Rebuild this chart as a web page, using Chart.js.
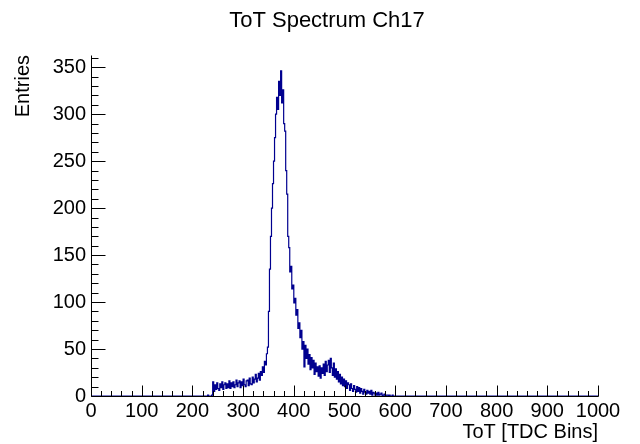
<!DOCTYPE html>
<html>
<head>
<meta charset="utf-8">
<script src="https://cdn.jsdelivr.net/npm/chart.js@4.4.1/dist/chart.umd.min.js"></script>
<style>
    html, body { margin: 0; padding: 0; background: #fff; }
</style>
</head>
<body>
<canvas id="totChart" width="640" height="444"></canvas>
<script>
// histogram texts
const chartTitle = 'ToT Spectrum Ch17';
const xTitle = 'ToT [TDC Bins]';
const yTitle = 'Entries';

// bins: low edge of first bin and width, in TDC bins
const firstBin = 230;
const binWidth = 2;

// entries per bin (230 .. 598)
const counts = [
    0, 1, 0, 0, 0, 1, 15, 5, 12, 7,          // 230-248
    14, 8, 6, 13, 9, 15, 7, 12, 14, 8,       // 250-268
    13, 9, 16, 8, 14, 10, 15, 9, 12, 17,     // 270-288
    10, 14, 16, 9, 15, 11, 18, 12, 10, 16,   // 290-308
    17, 11, 19, 13, 12, 20, 14, 18, 23, 15,  // 310-328
    19, 24, 17, 26, 22, 31, 25, 37, 33, 45,  // 330-348
    52, 90, 135, 170, 200, 226, 250, 275, 300, 318,     // 350-368
    305, 335, 320, 346, 312, 326, 290, 282, 240, 215,   // 370-388
    170, 158, 132, 138, 114, 118, 99, 104, 86, 92,      // 390-408
    72, 78, 62, 70, 50, 58, 31, 54, 40, 50,  // 410-428
    34, 44, 28, 41, 30, 38, 23, 35, 26, 31,  // 430-448
    21, 32, 19, 30, 24, 34, 22, 37, 26, 33,  // 450-468
    38, 25, 40, 30, 22, 35, 20, 29, 18, 26,  // 470-488
    15, 23, 13, 20, 11, 18, 10, 16, 8, 14,   // 490-508
    12, 6, 13, 8, 5, 11, 7, 4, 10, 5,        // 510-528
    9, 3, 8, 5, 2, 7, 4, 2, 6, 3,            // 530-548
    5, 2, 6, 1, 4, 3, 1, 3, 1, 4,            // 550-568
    1, 2, 3, 0, 1, 2, 0, 1, 1, 0,            // 570-588
    1, 0, 0, 1, 0                            // 590-598
];

// axis ticks
const xTicks = [0, 100, 200, 300, 400, 500, 600, 700, 800, 900, 1000];
const yTicks = [0, 50, 100, 150, 200, 250, 300, 350];
const xMax = 1000;
const yMax = 363;

const labelFont = { family: "'Liberation Sans', Arial, sans-serif", size: 20 };

// step line points built from the bins
const points = [{ x: 0, y: 0 }];
counts.forEach(function (c, i) {
    points.push({ x: firstBin + i * binWidth, y: c });
});
points.push({ x: firstBin + counts.length * binWidth, y: 0 });
points.push({ x: xMax, y: 0 });

// ROOT style axes: ticks pointing into the pad, titles at the axis ends
const rootAxes = {
    id: 'rootAxes',
    afterDraw: function (chart) {
        const c = chart.ctx;
        const xs = chart.scales.x, ys = chart.scales.y;
        const a = chart.chartArea;
        c.save();
        c.strokeStyle = '#000';
        c.lineWidth = 1;
        c.beginPath();
        const bY = Math.round(a.bottom) + 0.5;
        const lX = Math.round(a.left) + 0.5;
        c.moveTo(lX, bY); c.lineTo(Math.round(a.right) + 0.5, bY);
        c.moveTo(lX, bY); c.lineTo(lX, Math.round(a.top) + 0.5);
        // x ticks
        for (let v = 0; v <= xMax; v += 20) {
            const px = Math.round(xs.getPixelForValue(v)) + 0.5;
            const len = (v % 100 === 0) ? 11 : 5.5;
            c.moveTo(px, bY); c.lineTo(px, bY - len);
        }
        // y ticks
        for (let v = 0; v <= yMax; v += 10) {
            const py = Math.round(ys.getPixelForValue(v)) + 0.5;
            const len = (v % 50 === 0) ? 14 : 7;
            c.moveTo(lX, py); c.lineTo(lX + len, py);
        }
        c.stroke();

        c.fillStyle = '#000';
        c.font = "22px 'Liberation Sans', Arial, sans-serif";
        c.textAlign = 'center';
        c.textBaseline = 'middle';
        c.fillText(chartTitle, 327, 21);

        c.font = "20px 'Liberation Sans', Arial, sans-serif";
        c.textAlign = 'right';
        c.fillText(xTitle, a.right, 432);

        c.translate(23, a.top);
        c.rotate(-Math.PI / 2);
        c.fillText(yTitle, 0, 0);
        c.restore();
    }
};

new Chart(document.getElementById('totChart').getContext('2d'), {
    type: 'line',
    data: {
        datasets: [{
            data: points,
            borderColor: '#00008f',
            borderWidth: 1.2,
            pointRadius: 0,
            fill: false,
            stepped: 'after'
        }]
    },
    options: {
        responsive: false,
        animation: false,
        layout: { padding: { left: 0, right: 42, top: 55, bottom: 0 } },
        scales: {
            x: {
                type: 'linear',
                min: 0,
                max: xMax,
                grid: { display: false, drawTicks: false },
                border: { display: false },
                ticks: {
                    font: labelFont, color: '#000', padding: 3, maxRotation: 0,
                    autoSkip: false,
                    callback: function (v) { return String(v); }
                },
                afterBuildTicks: function (s) { s.ticks = xTicks.map(v => ({ value: v })); },
                afterFit: function (s) { s.height = 48; }
            },
            y: {
                min: 0,
                max: yMax,
                grid: { display: false, drawTicks: false },
                border: { display: false },
                ticks: {
                    font: labelFont, color: '#000', padding: 5,
                    autoSkip: false,
                    callback: function (v) { return String(v); }
                },
                afterBuildTicks: function (s) { s.ticks = yTicks.map(v => ({ value: v })); },
                afterFit: function (s) { s.width = 91; }
            }
        },
        plugins: {
            legend: { display: false },
            tooltip: { enabled: false }
        }
    },
    plugins: [rootAxes]
});
</script>
</body>
</html>
